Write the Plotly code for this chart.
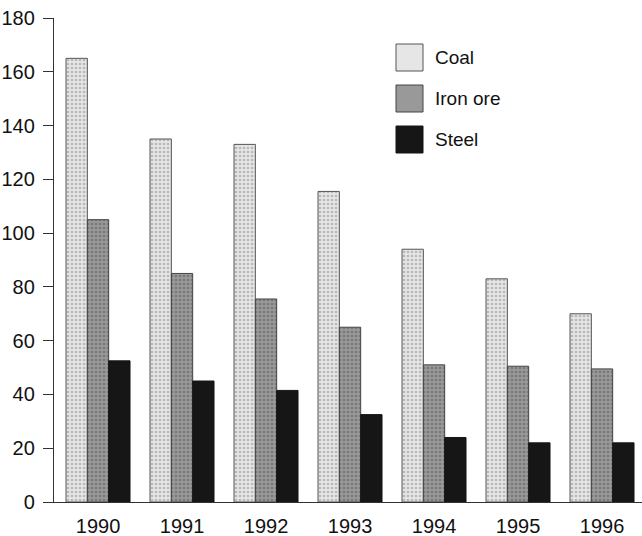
import plotly.graph_objects as go

years = ["1990", "1991", "1992", "1993", "1994", "1995", "1996"]
series_names = ["Coal", "Iron ore", "Steel"]
coal = [165, 135, 133, 115.5, 94, 83, 70]
iron_ore = [105, 85, 75.5, 65, 51, 50.5, 49.5]
steel = [52.5, 45, 41.5, 32.5, 24, 22, 22]
y_ticks = [0, 20, 40, 60, 80, 100, 120, 140, 160, 180]

values = [coal, iron_ore, steel]
fills = ["#e6e6e6", "#999999", "#161616"]
dots = ["#b8b8b8", "#787878", "#161616"]
outline = ["#555555", "#444444", "#161616"]

fig = go.Figure()
for name, vals, fc, dc, lc in zip(series_names, values, fills, dots, outline):
    fig.add_trace(go.Bar(
        x=years, y=vals, name=name, showlegend=False,
        marker=dict(color=fc, line=dict(color=lc, width=1),
                    pattern=dict(shape="." if name != "Steel" else "", fgcolor=dc,
                                 bgcolor=fc, size=4, solidity=0.35,
                                 fillmode="replace")),
    ))

# manual legend (large square swatches as in the reference)
W, H = 588, 484
L, T = 54, 18
for i, (name, fc, dc, lc) in enumerate(zip(series_names, fills, dots, outline)):
    y0px = 44 + 41 * i
    x0, x1 = (396 - L) / W, (423 - L) / W
    ya, yb = 1 - (y0px + 27 - T) / H, 1 - (y0px - T) / H
    fig.add_shape(type="rect", xref="paper", yref="paper", x0=x0, x1=x1, y0=ya, y1=yb,
                  fillcolor=fc, line=dict(color=lc, width=1))
    fig.add_annotation(xref="paper", yref="paper", x=(433 - L) / W, y=(ya + yb) / 2,
                       text=name, showarrow=False, xanchor="left", yanchor="middle",
                       font=dict(size=19, color="#111111", family="Liberation Sans, Arial, sans-serif"))

fig.update_layout(
    width=642, height=536,
    margin=dict(l=L, r=0, t=T, b=536 - T - H, pad=0),
    paper_bgcolor="white", plot_bgcolor="white",
    barmode="group", bargap=0.238, bargroupgap=0,
    font=dict(family="Liberation Sans, Arial, sans-serif", size=20, color="#111111"),
    xaxis=dict(type="category", range=[-0.524, 6.476], showgrid=False, zeroline=False,
               showline=True, linecolor="#333333", linewidth=1.3, ticks="",
               ticklabelstandoff=6, tickfont=dict(size=20)),
    yaxis=dict(range=[0, 180], tickvals=y_ticks, showgrid=False, zeroline=False,
               showline=True, linecolor="#333333", linewidth=1.3, ticks="outside",
               ticklen=10, tickcolor="#333333", tickwidth=1.3, tickfont=dict(size=20),
               ticklabelstandoff=4),
)

fig.write_html("out.html", config={"displayModeBar": False},
               post_script="document.body.style.margin='0px';")
